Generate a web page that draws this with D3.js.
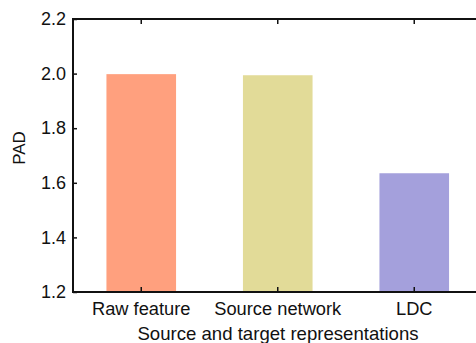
<!DOCTYPE html>
<html>
<head>
<meta charset="utf-8">
<script src="https://cdn.jsdelivr.net/npm/d3@7"></script>
<style>
  body { margin: 0; background: #fff; }
  text { font-family: "Liberation Sans", Arial, sans-serif; fill: #111; }
</style>
</head>
<body>
<script>
// Données
const categories = ['Raw feature', 'Source network', 'LDC']
const values = [1.998, 1.994, 1.635]
const colors = ['#FFA07E', '#E2DB98', '#A4A0DC']
const yTicks = [1.2, 1.4, 1.6, 1.8, 2.0, 2.2]

const width = 476, height = 343
const mLeft = 73, mTop = 19, mBottom = 292, mRight = 482.5

const svg = d3.select('body')
  .append('svg')
  .attr('width', width)
  .attr('height', height)

const x = d3.scaleBand()
  .domain(categories)
  .range([mLeft, mRight])
  .paddingInner(0.49)
  .paddingOuter(0.245)

const y = d3.scaleLinear()
  .domain([1.2, 2.2])
  .range([mBottom, mTop])

// Barres
svg.selectAll('rect')
  .data(values)
  .enter()
  .append('rect')
    .attr('x', (d, i) => x(categories[i]))
    .attr('y', d => y(d))
    .attr('width', x.bandwidth())
    .attr('height', d => y(1.2) - y(d))
    .attr('fill', (d, i) => colors[i])

// Axe Y
const yAxis = svg.append('g')
  .attr('transform', `translate(${mLeft},0)`)
  .call(d3.axisLeft(y).tickValues(yTicks).tickFormat(d3.format('.1f')).tickSize(-4).tickPadding(7))
yAxis.select('.domain').remove()
yAxis.selectAll('line').attr('stroke', '#111').attr('stroke-width', 1.5)
yAxis.selectAll('text').style('font-size', '18px')

// Axe X
const xAxis = svg.append('g')
  .attr('transform', `translate(0,${mBottom})`)
  .call(d3.axisBottom(x).tickSize(-5).tickPadding(10))
xAxis.select('.domain').remove()
xAxis.selectAll('line').attr('stroke', '#111').attr('stroke-width', 1.5)
xAxis.selectAll('text').style('font-size', '18.3px')

// Ticks du haut
svg.append('g')
  .attr('transform', `translate(0,${mTop})`)
  .call(d3.axisTop(x).tickSize(-5).tickFormat(''))
  .call(g => g.select('.domain').remove())
  .selectAll('line').attr('stroke', '#111').attr('stroke-width', 1.5)

// Cadre (gauche, bas, haut)
svg.append('path')
  .attr('d', `M${mRight},${mTop}H${mLeft}V${mBottom}H${mRight}`)
  .attr('fill', 'none')
  .attr('stroke', '#111')
  .attr('stroke-width', 2)

// Titres des axes
svg.append('text')
  .attr('transform', `translate(25,148) rotate(-90)`)
  .attr('text-anchor', 'middle')
  .style('font-size', '17px')
  .text('PAD')

svg.append('text')
  .attr('x', 278)
  .attr('y', 340)
  .attr('text-anchor', 'middle')
  .style('font-size', '18.6px')
  .text('Source and target representations')
</script>
</body>
</html>
